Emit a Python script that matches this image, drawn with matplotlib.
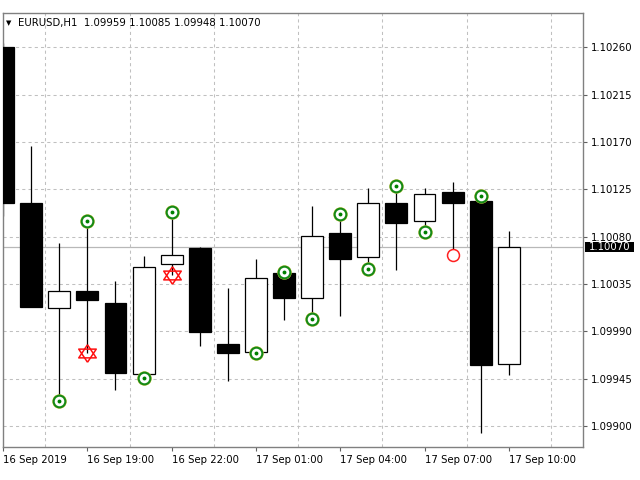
import numpy as np
import matplotlib
matplotlib.use("Agg")
import matplotlib.pyplot as plt
import matplotlib.transforms as mtransforms
from matplotlib.patches import Rectangle

# EURUSD H1 candles, 16 Sep 2019 16:00 .. 17 Sep 2019 10:00
opens = [1.10260, 1.10112, 1.10012, 1.10028, 1.10017, 1.09949, 1.10054, 1.10069, 1.09978, 1.09970,
         1.10045, 1.10022, 1.10083, 1.10061, 1.10112, 1.10095, 1.10122, 1.10114, 1.09959]
highs = [1.10264, 1.10166, 1.10074, 1.10095, 1.10038, 1.10062, 1.10103, 1.10070, 1.10031, 1.10059,
         1.10046, 1.10109, 1.10102, 1.10126, 1.10128, 1.10126, 1.10132, 1.10119, 1.10085]
lows = [1.10100, 1.10013, 1.09924, 1.09969, 1.09934, 1.09946, 1.10044, 1.09976, 1.09943, 1.09969,
        1.10001, 1.10002, 1.10005, 1.10049, 1.10048, 1.10084, 1.10063, 1.09893, 1.09948]
closes = [1.10112, 1.10013, 1.10028, 1.10020, 1.09950, 1.10051, 1.10063, 1.09989, 1.09969, 1.10041,
          1.10022, 1.10081, 1.10059, 1.10112, 1.10093, 1.10121, 1.10112, 1.09958, 1.10070]

# signal markers (bar index, price)
green_idx = [2, 3, 5, 6, 9, 10, 11, 12, 13, 14, 15, 17]
green_price = [1.09924, 1.10095, 1.09946, 1.10103, 1.09969, 1.10046, 1.10002, 1.10102, 1.10049, 1.10128, 1.10084, 1.10119]
star_idx = [3, 6]
star_price = [1.09969, 1.10044]
red_idx = [16]
red_price = [1.10063]

tick_pos = [0, 3, 6, 9, 12, 15, 18]
tick_labels = ["16 Sep 2019", "16 Sep 19:00", "16 Sep 22:00", "17 Sep 01:00",
               "17 Sep 04:00", "17 Sep 07:00", "17 Sep 10:00"]
price_ticks = [1.09900, 1.09945, 1.09990, 1.10035, 1.10080, 1.10125, 1.10170, 1.10215, 1.10260]

symbol = "EURUSD,H1"

o = np.array(opens)
h = np.array(highs)
l = np.array(lows)
c = np.array(closes)
x = np.arange(len(o))
last = len(o) - 1

fig = plt.figure(figsize=(6.4, 4.8), dpi=100)
ax = fig.add_axes([3 / 640, 33.3 / 480, 580 / 640, 434.2 / 480])

grid_col = "#c0c0c0"
ax.set_xlim(-0.004, 20.64)
ax.set_ylim(1.098803, 1.102931)

# grid
ax.set_xticks(np.arange(0, 21, 1.5), minor=True)
ax.grid(True, which="minor", axis="x", color=grid_col, ls=(0, (3, 3)), lw=0.75, zorder=0)
ax.grid(True, which="major", axis="y", color=grid_col, ls=(0, (3, 3)), lw=0.75, zorder=0)
ax.grid(False, which="major", axis="x")

# current price line
ax.axhline(c[last], color="#b8b8b8", lw=0.9, zorder=1)

# wicks
ax.vlines(x, l, h, color="black", lw=0.9, zorder=2)

# bodies
up = c >= o
body_bottom = np.minimum(o, c)
body_height = np.abs(c - o)
ax.bar(x[up], body_height[up], bottom=body_bottom[up], width=0.78,
       facecolor="white", edgecolor="black", lw=0.9, zorder=3)
ax.bar(x[~up], body_height[~up], bottom=body_bottom[~up], width=0.78,
       facecolor="black", edgecolor="black", lw=0.9, zorder=3)

# markers
ax.plot(green_idx, green_price, ls="none", marker="o", ms=9.6, mfc="none",
        mec="#c8c040", mew=0.8, zorder=5)
ax.plot(green_idx, green_price, ls="none", marker="o", ms=8.4, mfc="white",
        mec="#158a15", mew=1.5, zorder=6)
ax.plot(green_idx, green_price, ls="none", marker="o", ms=2.8, mfc="#008000",
        mec="#008000", mew=0, zorder=7)

tri_up = [(0, 1), (-1, -0.5), (1, -0.5), (0, 1)]
tri_dn = [(0, -1), (-1, 0.5), (1, 0.5), (0, -1)]
for tri in (tri_up, tri_dn):
    ax.plot(star_idx, star_price, ls="none", marker=tri, ms=12.6, mfc="none",
            mec="#ff1010", mew=1.1, zorder=6)

ax.plot(red_idx, red_price, ls="none", marker="o", ms=8.6, mfc="white",
        mec="#ff2020", mew=1.1, zorder=6)

# axes styling
for side in ("left", "top", "bottom", "right"):
    ax.spines[side].set_color("#808080")
    ax.spines[side].set_linewidth(1.0)

ax.yaxis.tick_right()
ax.set_yticks(price_ticks)
ax.set_yticklabels([f"{p:.5f}" for p in price_ticks])
ax.set_xticks(tick_pos)
ax.set_xticklabels(tick_labels)
for lab in ax.get_xticklabels():
    lab.set_horizontalalignment("left")
ax.tick_params(axis="both", which="major", length=3, width=0.8, color="#606060",
               labelsize=7.3, labelcolor="black", pad=2.5)
ax.tick_params(axis="x", which="minor", length=0)
ax.tick_params(axis="x", which="major", pad=3)

# current price tag (box ~10 px tall)
trans = mtransforms.blended_transform_factory(ax.transAxes, ax.transData)
half = 5 / (434.2 / (1.102931 - 1.098803))
ax.add_patch(Rectangle((1.0035, c[last] - half), 0.084, 2 * half, transform=trans,
                       facecolor="black", edgecolor="none", clip_on=False, zorder=10))
ax.text(1.0095, c[last], f"{c[last]:.5f}", transform=trans, ha="left", va="center",
        fontsize=7.3, color="white", zorder=11, clip_on=False)

# header
fig.text(6 / 640, 1 - 23 / 480, "\u25bc", fontsize=5, va="center", ha="left", color="black")
fig.text(18 / 640, 1 - 23 / 480,
         f"{symbol}  {o[last]:.5f} {h[last]:.5f} {l[last]:.5f} {c[last]:.5f}",
         fontsize=7.3, va="center", ha="left", color="black")

fig.savefig("out.png", dpi=100)
